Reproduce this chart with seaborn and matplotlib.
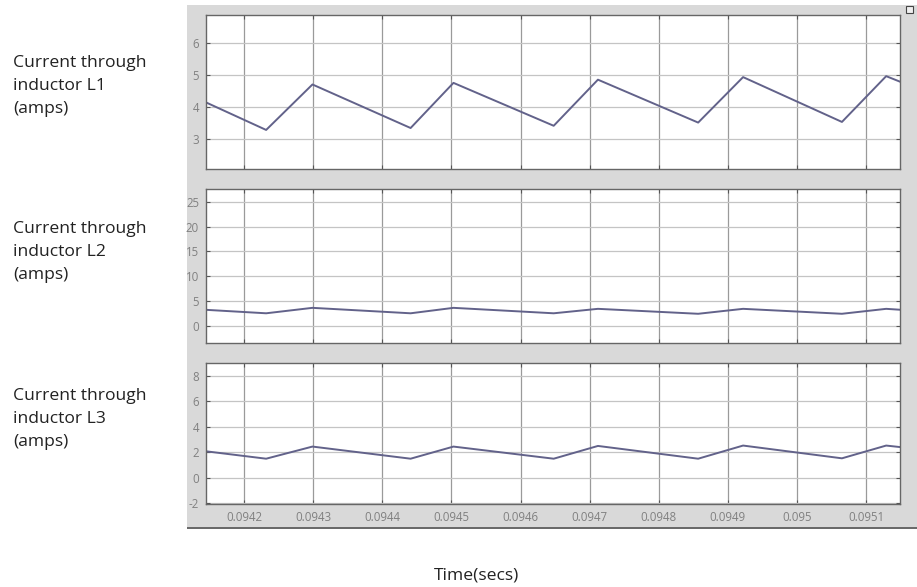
import numpy as np
import pandas as pd
import seaborn as sns
import matplotlib
matplotlib.use("Agg")
import matplotlib.pyplot as plt
from matplotlib.patches import Rectangle

sns.set_style("white")
plt.rcParams['font.family'] = ['Open Sans', 'DejaVu Sans']

# time instants of the triangle corners (secs)
t_corners = [0.094145, 0.094232, 0.094299, 0.094441, 0.094503, 0.094648,
             0.094712, 0.094857, 0.094922, 0.095065, 0.095129, 0.095151]
# current values at those corners (amps)
i_L1 = [4.15, 3.29, 4.71, 3.35, 4.76, 3.42, 4.86, 3.52, 4.94, 3.54, 4.97, 4.78]
i_L2 = [3.2, 2.5, 3.6, 2.5, 3.6, 2.5, 3.4, 2.4, 3.4, 2.4, 3.4, 3.2]
i_L3 = [2.08, 1.5, 2.45, 1.5, 2.45, 1.5, 2.5, 1.5, 2.53, 1.53, 2.53, 2.4]

labels = ["Current through\ninductor L1\n(amps)",
          "Current through\ninductor L2\n(amps)",
          "Current through\ninductor L3\n(amps)"]
y_ticks = [[3, 4, 5, 6], [0, 5, 10, 15, 20, 25], [-2, 0, 2, 4, 6, 8]]
y_lims = [(2.07, 6.88), (-3.5, 27.6), (-2.05, 9.0)]
x_ticks = [0.0942, 0.0943, 0.0944, 0.0945, 0.0946, 0.0947, 0.0948, 0.0949, 0.095, 0.0951]
x_ticklabels = ['0.0942', '0.0943', '0.0944', '0.0945', '0.0946',
                '0.0947', '0.0948', '0.0949', '0.095', '0.0951']
x_lim = (0.094145, 0.095149)

W, H = 917, 587
fig = plt.figure(figsize=(W / 100, H / 100), dpi=100, facecolor='white')

# gray scope background
bg = fig.add_axes([0, 0, 1, 1], zorder=-5)
bg.set_xlim(0, W)
bg.set_ylim(H, 0)
bg.axis('off')
bg.add_patch(Rectangle((187, 5), W - 187, 523, facecolor='#d9d9d9', edgecolor='none'))
bg.add_patch(Rectangle((187, 527), W - 187, 2, facecolor='#6a6a6a', edgecolor='none'))
bg.add_patch(Rectangle((906, 6), 7, 7, facecolor='#f0f0f0', edgecolor='#444444', linewidth=0.8))

# axes pixel boxes (left, top, right, bottom)
boxes = [(206, 15, 900, 169), (206, 189, 900, 343), (206, 363, 900, 504)]
label_y = [86, 252, 419]
series = [i_L1, i_L2, i_L3]

for k, (box, vals) in enumerate(zip(boxes, series)):
    l, t, r, b = box
    ax = fig.add_axes([l / W, 1 - b / H, (r - l) / W, (b - t) / H], zorder=2)
    ax.set_facecolor('white')
    df = pd.DataFrame({'t': t_corners, 'i': vals})
    sns.lineplot(data=df, x='t', y='i', ax=ax, color='#62628a', linewidth=1.4)
    ax.set_xlim(*x_lim)
    ax.set_ylim(*y_lims[k])
    ax.set_xticks(x_ticks)
    ax.set_yticks(y_ticks[k])
    ax.set_yticklabels([str(v) for v in y_ticks[k]])
    if k == 2:
        ax.set_xticklabels(x_ticklabels)
    else:
        ax.set_xticklabels([])
    ax.set_xlabel('')
    ax.set_ylabel('')
    ax.set_axisbelow(True)
    ax.xaxis.grid(True, color='#9a9a9a', linewidth=0.9)
    ax.yaxis.grid(True, color='#c4c4c4', linewidth=0.9)
    ax.tick_params(axis='both', direction='in', length=3, width=0.8, color='#555555',
                   labelsize=8.3, labelcolor='#808080', top=True, right=True,
                   bottom=True, left=True, pad=5)
    for sp in ax.spines.values():
        sp.set_color('#666666')
        sp.set_linewidth(1.0)
    fig.text(13 / W, 1 - label_y[k] / H, labels[k], ha='left', va='center',
             fontsize=12.6, color='#222222', linespacing=1.6)

fig.text(477 / W, 1 - 575 / H, "Time(secs)", ha='center', va='center',
         fontsize=12.6, color='#222222')

fig.savefig('out.png', dpi=100, facecolor='white')
